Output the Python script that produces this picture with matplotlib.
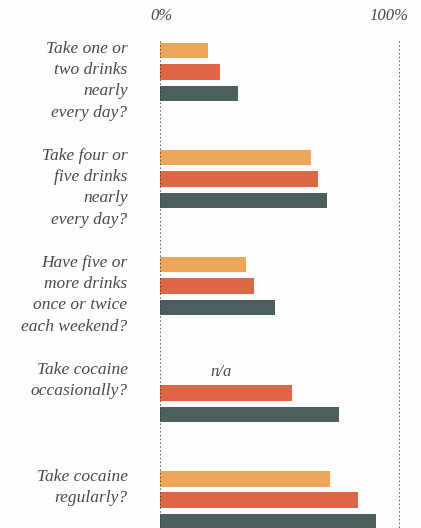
import matplotlib
matplotlib.use("Agg")
import matplotlib.pyplot as plt

questions = [
    ["Take one or", "two drinks", "nearly", "every day?"],
    ["Take four or", "five drinks", "nearly", "every day?"],
    ["Have five or", "more drinks", "once or twice", "each weekend?"],
    ["Take cocaine", "occasionally?"],
    ["Take cocaine", "regularly?"],
]
series_orange = [20, 63, 36, None, 71]
series_red = [25, 66, 39, 55, 82.5]
series_dark = [32.5, 69.5, 48, 74.5, 90]
tick_labels = ["0%", "100%"]

colors = ["#EBA659", "#DD6645", "#4D5F5C"]
text_color = "#4a4a4a"
font = ["Liberation Serif", "DejaVu Serif"]

fig = plt.figure(figsize=(4.21, 5.28), dpi=100)
fig.patch.set_facecolor("#FDFDFB")
ax = fig.add_axes([160 / 421, 0, 240 / 421, 488 / 528])
ax.set_facecolor("none")
ax.set_xlim(0, 100)
ax.set_ylim(4.26, -0.30)
ax.axis("off")

offsets = [-0.2, 0.0, 0.2]
bar_h = 0.145
for i in range(len(questions)):
    for j, series in enumerate([series_orange, series_red, series_dark]):
        v = series[i]
        if v is None:
            ax.text(25.5, i + offsets[j], "n/a", ha="center", va="center",
                    fontsize=12, style="italic", family=font, color=text_color)
            continue
        ax.barh(i + offsets[j], v, height=bar_h, color=colors[j],
                edgecolor="none", zorder=2)
    for k, line in enumerate(questions[i]):
        ax.text(-13.5, i - 0.22 + 0.2 * k, line, ha="right", va="center",
                fontsize=12.5, style="italic", family=font, color=text_color)

for x in (0, 100):
    ax.axvline(x, color="#333333", linestyle=(0, (1, 1.5)), linewidth=1.1, zorder=3)

ax.text(0.5, -0.52, tick_labels[0], ha="center", va="center", fontsize=12,
        style="italic", family=font, color=text_color, clip_on=False)
ax.text(95.5, -0.52, tick_labels[1], ha="center", va="center", fontsize=12,
        style="italic", family=font, color=text_color, clip_on=False)

fig.savefig("out.png", dpi=100, facecolor=fig.get_facecolor())
